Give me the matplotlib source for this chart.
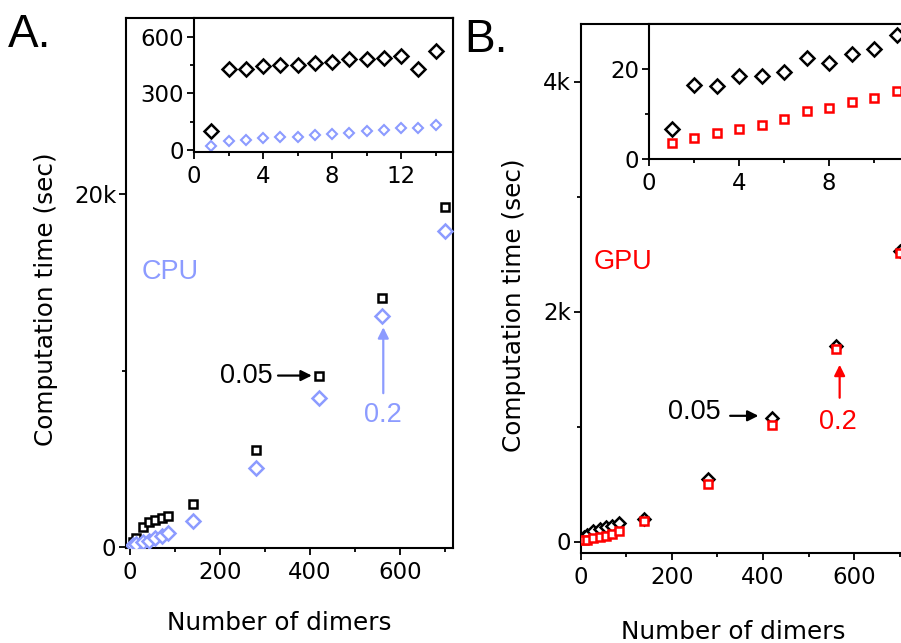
import matplotlib
matplotlib.use("Agg")
import matplotlib.pyplot as plt
from matplotlib.ticker import FixedLocator, FuncFormatter

# tick and axis labels use the wide face; annotations use the Arial-like one
plt.rcParams['font.family'] = ['DejaVu Sans']
ANNOT = ['Liberation Sans', 'DejaVu Sans']

# number of dimers for the main panels
dimers = [7, 14, 28, 42, 56, 70, 84, 140, 280, 420, 560, 700]

# panel A: CPU timings (sec)
cpu_005 = [300, 490, 1116, 1400, 1530, 1660, 1773, 2440, 5510, 9720, 14130, 19280]
cpu_02 = [90, 170, 270, 360, 490, 610, 780, 1470, 4460, 8430, 13100, 17900]

# panel A inset
cpu_inset_x = list(range(1, 15))
cpu_inset_005 = [100, 428, 432, 446, 453, 453, 459, 466, 485, 481, 487, 497, 430, 524]
cpu_inset_02 = [21, 48, 53, 62, 67, 72, 79, 85, 90, 99, 106, 115, 118, 131]

# panel B: GPU timings (sec)
gpu_005 = [40, 58, 93, 108, 122, 139, 160, 200, 545, 1078, 1696, 2522]
gpu_02 = [10, 15, 29, 38, 50, 64, 87, 174, 502, 1015, 1673, 2508]

# panel B inset
gpu_inset_x = list(range(1, 12))
gpu_inset_005 = [6.5, 16.3, 16.2, 18.4, 18.4, 19.4, 22.4, 21.4, 23.4, 24.4, 27.6]
gpu_inset_02 = [3.4, 4.6, 5.6, 6.6, 7.5, 8.9, 10.5, 11.2, 12.5, 13.6, 15.1]

BLUE = '#8c9bff'
RED = '#ff0000'
W, H = 901, 643


def px_axes(fig, left, top, right, bottom):
    return fig.add_axes([left / W, 1 - bottom / H, (right - left) / W, (bottom - top) / H])


def style(ax, xmaj, xmin, ymaj, ymin, yfmt=None):
    for s in ax.spines.values():
        s.set_linewidth(1.5)
    ax.xaxis.set_major_locator(FixedLocator(xmaj))
    ax.xaxis.set_minor_locator(FixedLocator(xmin))
    ax.yaxis.set_major_locator(FixedLocator(ymaj))
    ax.yaxis.set_minor_locator(FixedLocator(ymin))
    if yfmt:
        ax.yaxis.set_major_formatter(FuncFormatter(yfmt))
    ax.tick_params(which='both', direction='out', width=1.3, labelsize=16.5,
                   top=False, right=False)
    ax.tick_params(which='major', length=5)
    ax.tick_params(which='minor', length=3)
    ax.tick_params(axis='y', pad=2)
    ax.tick_params(axis='x', pad=4.5)


def arrow(ax, start, end, color):
    ax.annotate('', xy=end, xytext=start,
                arrowprops=dict(arrowstyle='-|>', color=color, lw=1.6,
                                mutation_scale=16, shrinkA=0, shrinkB=0))


kfmt = lambda v, p: '0' if v == 0 else f'{int(v / 1000)}k'

fig = plt.figure(figsize=(W / 100, H / 100), dpi=100)

# ---- panel A ----
axA = px_axes(fig, 126, 18, 453, 548)
axA.plot(dimers, cpu_005, 's', ms=6, mew=1.8, mec='black', mfc='white', zorder=3)
axA.plot(dimers, cpu_02, 'D', ms=7, mew=1.8, mec=BLUE, mfc='white', zorder=3)
axA.set_xlim(-9, 718)
axA.set_ylim(-60, 30000)
style(axA, [0, 200, 400, 600], [100, 300, 500, 700], [0, 20000], [10000], kfmt)

axA.text(26, 15580, 'CPU', color=BLUE, fontsize=19.5, family=ANNOT, ha='left', va='center')
axA.text(318, 9720, '0.05', fontsize=19.5, family=ANNOT, ha='right', va='center')
arrow(axA, (329, 9720), (404, 9720), 'black')
axA.text(563, 7480, '0.2', color=BLUE, fontsize=19.5, family=ANNOT, ha='center', va='center')
arrow(axA, (563, 8720), (563, 12460), BLUE)

inA = px_axes(fig, 194, 18, 453, 152)
inA.plot(cpu_inset_x, cpu_inset_005, 'D', ms=7.5, mew=1.8, mec='black', mfc='white')
inA.plot(cpu_inset_x, cpu_inset_02, 'D', ms=5.2, mew=1.5, mec=BLUE, mfc='white')
inA.set_xlim(0, 15)
inA.set_ylim(-10, 700)
style(inA, [0, 4, 8, 12], [2, 6, 10, 14], [0, 300, 600], [150, 450])

fig.text(46 / W, 1 - 299 / H, 'Computation time (sec)', rotation=90,
         fontsize=17.8, ha='center', va='center')
fig.text(279 / W, 1 - 623 / H, 'Number of dimers', fontsize=17.8,
         ha='center', va='center')
fig.text(8 / W, 1 - 47 / H, 'A.', fontsize=33, family=ANNOT, ha='left', va='baseline')

# ---- panel B ----
axB = px_axes(fig, 580.5, 24, 909, 553)
axB.plot(dimers, gpu_005, 'D', ms=6.5, mew=1.8, mec='black', mfc='white', zorder=3)
axB.plot(dimers, gpu_02, 's', ms=6, mew=1.8, mec=RED, mfc='white', zorder=4)
axB.set_xlim(0, 720)
axB.set_ylim(-100, 4500)
style(axB, [0, 200, 400, 600], [100, 300, 500, 700], [0, 2000, 4000], [1000, 3000], kfmt)

axB.text(28, 2432, 'GPU', color=RED, fontsize=19.5, family=ANNOT, ha='left', va='center')
axB.text(308, 1122, '0.05', fontsize=19.5, family=ANNOT, ha='right', va='center')
arrow(axB, (328, 1093), (390, 1093), 'black')
axB.text(564, 1043, '0.2', color=RED, fontsize=19.5, family=ANNOT, ha='center', va='center')
arrow(axB, (568, 1250), (568, 1537), RED)

inB = px_axes(fig, 649, 24, 909, 158.5)
inB.plot(gpu_inset_x, gpu_inset_005, 'D', ms=6.8, mew=1.8, mec='black', mfc='white')
inB.plot(gpu_inset_x, gpu_inset_02, 's', ms=5.8, mew=1.8, mec=RED, mfc='white')
inB.set_xlim(0, 11.55)
inB.set_ylim(0, 30)
style(inB, [0, 4, 8], [2, 6, 10], [0, 20], [10])

fig.text(514 / W, 1 - 305 / H, 'Computation time (sec)', rotation=90,
         fontsize=17.8, ha='center', va='center')
fig.text(733 / W, 1 - 632 / H, 'Number of dimers', fontsize=17.8,
         ha='center', va='center')
fig.text(464 / W, 1 - 52 / H, 'B.', fontsize=33, family=ANNOT, ha='left', va='baseline')

fig.savefig('out.png', dpi=100)
